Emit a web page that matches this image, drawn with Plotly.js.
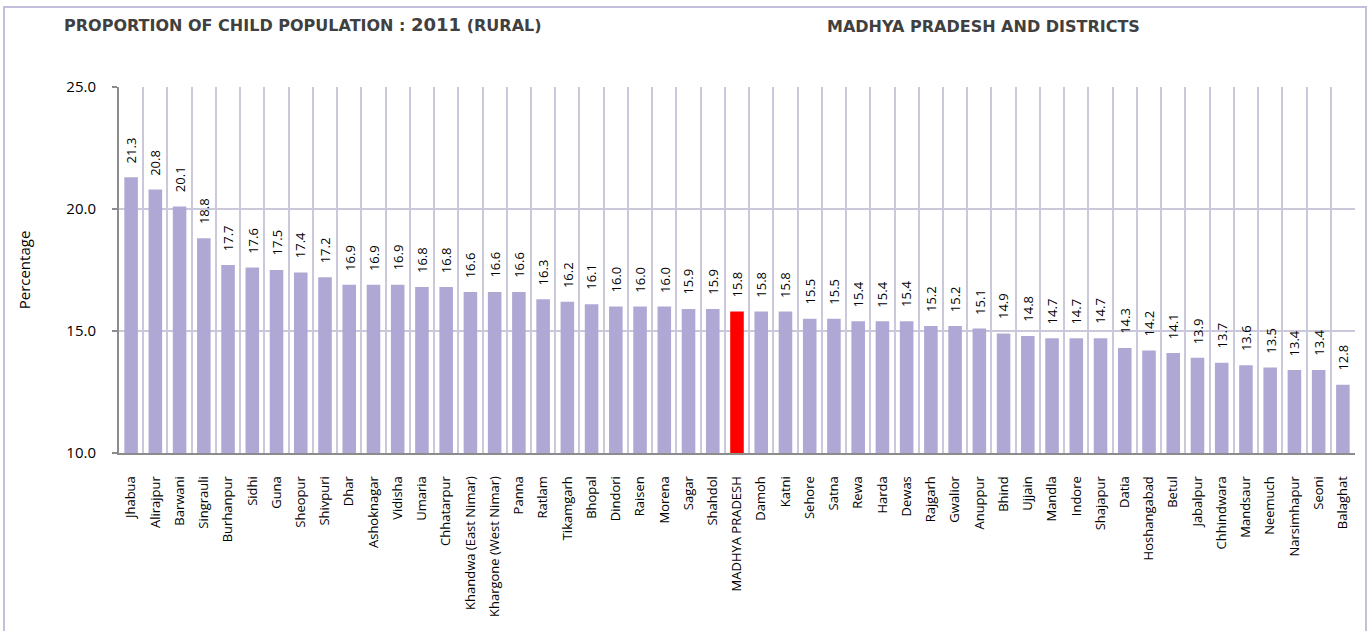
<!DOCTYPE html>
<html>
<head>
<meta charset="utf-8">
<script src="https://cdn.plot.ly/plotly-3.0.1.min.js"></script>
<style>
  body { margin: 0; background: #fff; }
  #wrap { position: relative; width: 1371px; height: 631px; }
  #chart { width: 1371px; height: 631px; }
  #frame {
    position: absolute; left: 3px; top: 6px; width: 1360px; height: 640px;
    border: 2px solid #c4c0db; pointer-events: none;
  }
</style>
</head>
<body>
<div id="wrap">
  <div id="chart"></div>
  <div id="frame"></div>
</div>
<script>
// Child population (0-6) as % of rural population, 2011
const districts = [
    'Jhabua', 'Alirajpur', 'Barwani', 'Singrauli', 'Burhanpur', 'Sidhi', 'Guna', 'Sheopur',
    'Shivpuri', 'Dhar', 'Ashoknagar', 'Vidisha', 'Umaria', 'Chhatarpur', 'Khandwa (East Nimar)',
    'Khargone (West Nimar)', 'Panna', 'Ratlam', 'Tikamgarh', 'Bhopal', 'Dindori', 'Raisen',
    'Morena', 'Sagar', 'Shahdol', 'MADHYA PRADESH', 'Damoh', 'Katni', 'Sehore', 'Satna', 'Rewa',
    'Harda', 'Dewas', 'Rajgarh', 'Gwalior', 'Anuppur', 'Bhind', 'Ujjain', 'Mandla', 'Indore',
    'Shajapur', 'Datia', 'Hoshangabad', 'Betul', 'Jabalpur', 'Chhindwara', 'Mandsaur',
    'Neemuch', 'Narsimhapur', 'Seoni', 'Balaghat'
];
const childShare = [
    21.3, 20.8, 20.1, 18.8, 17.7, 17.6, 17.5, 17.4,
    17.2, 16.9, 16.9, 16.9, 16.8, 16.8, 16.6,
    16.6, 16.6, 16.3, 16.2, 16.1, 16.0, 16.0,
    16.0, 15.9, 15.9, 15.8, 15.8, 15.8, 15.5, 15.5, 15.4,
    15.4, 15.4, 15.2, 15.2, 15.1, 14.9, 14.8, 14.7, 14.7,
    14.7, 14.3, 14.2, 14.1, 13.9, 13.7, 13.6,
    13.5, 13.4, 13.4, 12.8
];
const stateName = 'MADHYA PRADESH';
const yTicks = [10, 15, 20, 25];

const FONT = 'Open Sans, Noto Sans, sans-serif';
const TITLE_FONT = 'DejaVu Sans, Open Sans, sans-serif';
const barColor = '#b0a8d4';
const stateColor = '#ff0000';
const gridColor = '#ccc8dc';

const trace = {
    x: districts,
    y: childShare,
    type: 'bar',
    width: 0.56,
    marker: {
        color: districts.map(d => d === stateName ? stateColor : barColor),
        line: { width: 0 }
    },
    hovertemplate: '%{x}: %{y:.1f}<extra></extra>'
};

// value labels, rotated, sitting a little above each bar
const valueLabels = districts.map((d, i) => ({
    x: d,
    y: childShare[i],
    xref: 'x',
    yref: 'y',
    text: childShare[i].toFixed(1),
    textangle: -90,
    showarrow: false,
    xanchor: 'center',
    yanchor: 'bottom',
    yshift: 12,
    font: { family: FONT, size: 13, color: '#000' }
}));

const titles = [
    {
        xref: 'paper', yref: 'paper', x: -0.046, y: 1.17, xanchor: 'left', yanchor: 'middle',
        text: 'PROPORTION OF CHILD POPULATION : <span style="font-size:18px">2011</span> (RURAL)',
        showarrow: false,
        font: { family: TITLE_FONT, size: 16, color: '#404040', weight: 700 }
    },
    {
        xref: 'paper', yref: 'paper', x: 0.571, y: 1.165, xanchor: 'left', yanchor: 'middle',
        text: 'MADHYA PRADESH AND DISTRICTS',
        showarrow: false,
        font: { family: TITLE_FONT, size: 16, color: '#404040', weight: 700 }
    }
];

const layout = {
    width: 1371,
    height: 631,
    margin: { l: 119, r: 16, t: 87, b: 178 },
    paper_bgcolor: '#fff',
    plot_bgcolor: '#fff',
    showlegend: false,
    font: { family: FONT, size: 13, color: '#000' },
    xaxis: {
        type: 'category',
        tickson: 'boundaries',
        showgrid: true,
        gridcolor: gridColor,
        gridwidth: 2,
        ticks: '',
        tickangle: -90,
        ticklabelstandoff: 16,
        tickfont: { family: FONT, size: 13, color: '#000' },
        showline: true,
        linecolor: '#8c8c8c',
        linewidth: 2,
        zeroline: false,
        fixedrange: true
    },
    yaxis: {
        range: [10, 25],
        tickvals: yTicks,
        tickformat: '.1f',
        showgrid: true,
        gridcolor: gridColor,
        gridwidth: 2,
        ticks: 'outside',
        ticklen: 5,
        tickcolor: '#8c8c8c',
        tickwidth: 2,
        ticklabelstandoff: 13,
        tickfont: { family: FONT, size: 15, color: '#000' },
        showline: true,
        linecolor: '#8c8c8c',
        linewidth: 2,
        zeroline: false,
        title: {
            text: 'Percentage',
            standoff: 32,
            font: { family: FONT, size: 15, color: '#000' }
        },
        fixedrange: true
    },
    annotations: [...titles, ...valueLabels]
};

Plotly.newPlot('chart', [trace], layout, { displayModeBar: false, staticPlot: true });
</script>
</body>
</html>
